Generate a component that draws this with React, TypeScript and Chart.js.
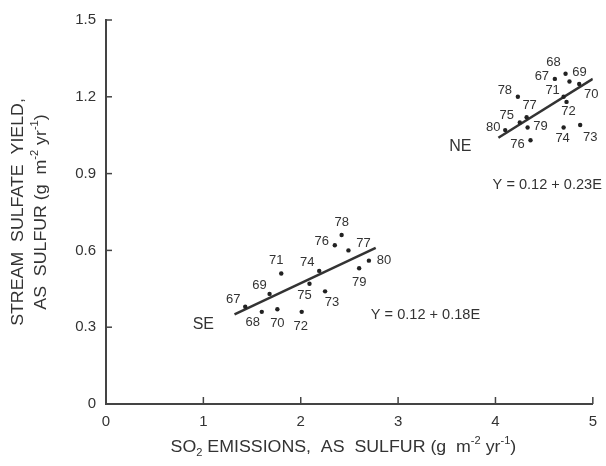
import React, { useEffect, useRef } from 'react';
import { Chart, registerables } from 'chart.js';

Chart.register(...registerables);

// ---- data ----
const years = ['67', '68', '69', '70', '71', '72', '73', '74', '75', '76', '77', '78', '79', '80'];
const seX = [1.43, 1.60, 1.68, 1.76, 1.80, 2.01, 2.25, 2.19, 2.09, 2.35, 2.49, 2.42, 2.60, 2.70];
const seY = [0.38, 0.36, 0.43, 0.37, 0.51, 0.36, 0.44, 0.52, 0.47, 0.62, 0.60, 0.66, 0.53, 0.56];
const neX = [4.61, 4.72, 4.76, 4.86, 4.70, 4.73, 4.87, 4.70, 4.25, 4.36, 4.32, 4.23, 4.33, 4.10];
const neY = [1.27, 1.29, 1.26, 1.25, 1.20, 1.18, 1.09, 1.08, 1.10, 1.03, 1.12, 1.20, 1.08, 1.07];
const seLineX = [1.32, 2.77];
const seLineY = [0.35, 0.61];
const neLineX = [4.03, 5.0];
const neLineY = [1.04, 1.27];
const seEquation = 'Y = 0.12 + 0.18E';
const neEquation = 'Y = 0.12 + 0.23E';
const xTicks = [0, 1, 2, 3, 4, 5];
const yTicks = [0, 0.3, 0.6, 0.9, 1.2, 1.5];

// label placement (pixel offsets from each point, by year order)
const seLabelOffsets: [number, number][] = [
  [-12, -7], [-9, 11], [-10, -8], [0, 14], [-5, -13], [-1, 15], [7, 11],
  [-12, -8], [-5, 12], [-13, -4], [15, -7], [0, -13], [0, 14], [15, 0],
];
const neLabelOffsets: [number, number][] = [
  [-13, -2], [-12, -11], [10, -9], [12, 10], [-11, -6], [2, 10], [10, 12],
  [-1, 11], [-13, -7], [-13, 4], [3, -12], [-13, -6], [13, -1], [-12, -3],
];

const FONT = '"Liberation Sans", Arial, Helvetica, sans-serif';
const TEXT = '#333';

type Part = [string, number]; // 0 normal, 1 sup, 2 sub

function drawRich(
  ctx: CanvasRenderingContext2D,
  parts: Part[],
  x: number,
  y: number,
  size: number,
  hScale = 1,
  align: 'center' | 'left' = 'center',
) {
  const small = Math.round(size * 0.62);
  const widths = parts.map(([t, k]) => {
    ctx.font = `${k ? small : size}px ${FONT}`;
    return ctx.measureText(t).width;
  });
  const total = widths.reduce((a, b) => a + b, 0);
  ctx.save();
  ctx.translate(x, y);
  ctx.scale(hScale, 1);
  let cx = align === 'center' ? -total / 2 : 0;
  ctx.textAlign = 'left';
  ctx.textBaseline = 'middle';
  parts.forEach(([t, k], i) => {
    ctx.font = `${k ? small : size}px ${FONT}`;
    const dy = k === 1 ? -size * 0.42 : k === 2 ? size * 0.3 : 0;
    ctx.fillText(t, cx, dy);
    cx += widths[i];
  });
  ctx.restore();
}

const overlay = {
  id: 'overlay',
  afterDraw(chart: any) {
    const ctx: CanvasRenderingContext2D = chart.ctx;
    const xs = chart.scales.x;
    const ys = chart.scales.y;
    const area = chart.chartArea;
    ctx.save();
    // inward tick marks
    ctx.strokeStyle = '#444';
    ctx.lineWidth = 1.5;
    yTicks.forEach((v) => {
      if (v === 0) return;
      const py = ys.getPixelForValue(v);
      ctx.beginPath();
      ctx.moveTo(area.left, py);
      ctx.lineTo(area.left + 6, py);
      ctx.stroke();
    });
    xTicks.forEach((v) => {
      if (v === 0) return;
      const px = xs.getPixelForValue(v);
      ctx.beginPath();
      ctx.moveTo(px, area.bottom);
      ctx.lineTo(px, area.bottom - 7);
      ctx.stroke();
    });

    // point labels
    ctx.fillStyle = TEXT;
    ctx.font = `13px ${FONT}`;
    ctx.textAlign = 'center';
    ctx.textBaseline = 'middle';
    const seMeta = chart.getDatasetMeta(0);
    seMeta.data.forEach((el: any, i: number) => {
      const [dx, dy] = seLabelOffsets[i];
      ctx.fillText(years[i], el.x + dx, el.y + dy);
    });
    const neMeta = chart.getDatasetMeta(1);
    neMeta.data.forEach((el: any, i: number) => {
      const [dx, dy] = neLabelOffsets[i];
      ctx.fillText(years[i], el.x + dx, el.y + dy);
    });

    // region names
    ctx.font = `16px ${FONT}`;
    ctx.fillText('SE', xs.getPixelForValue(1.0), ys.getPixelForValue(0.31));
    ctx.fillText('NE', xs.getPixelForValue(3.64), ys.getPixelForValue(1.005));

    // equations
    drawRich(ctx, [[seEquation, 0]], xs.getPixelForValue(2.72), ys.getPixelForValue(0.348), 14, 1.04, 'left');
    drawRich(ctx, [[neEquation, 0]], xs.getPixelForValue(3.94) + 3, ys.getPixelForValue(0.855), 14, 1.04, 'left');

    // axis titles
    drawRich(
      ctx,
      [['SO', 0], ['2', 2], [' EMISSIONS,  AS  SULFUR (g  m', 0], ['-2', 1], [' yr', 0], ['-1', 1], [')', 0]],
      (area.left + area.right) / 2 - 6,
      448,
      16,
      1.11,
    );
    ctx.save();
    ctx.translate(19, 212);
    ctx.rotate(-Math.PI / 2);
    drawRich(ctx, [['STREAM  SULFATE  YIELD,', 0]], 0, 0, 16, 1.11);
    ctx.restore();
    ctx.save();
    ctx.translate(42, 212);
    ctx.rotate(-Math.PI / 2);
    drawRich(ctx, [['AS  SULFUR (g  m', 0], ['-2', 1], [' yr', 0], ['-1', 1], [')', 0]], 0, 0, 16, 1.11);
    ctx.restore();

    ctx.restore();
  },
};

export default function App() {
  const ref = useRef<HTMLCanvasElement | null>(null);
  useEffect(() => {
    if (!ref.current) return;
    const pts = (xs: number[], ys: number[]) => xs.map((x, i) => ({ x, y: ys[i] }));
    const chart = new Chart(ref.current, {
      type: 'scatter',
      data: {
        datasets: [
          { label: 'SE', data: pts(seX, seY), pointRadius: 2.2, pointBackgroundColor: '#222', pointBorderWidth: 0 },
          { label: 'NE', data: pts(neX, neY), pointRadius: 2.2, pointBackgroundColor: '#222', pointBorderWidth: 0 },
          { label: 'SE fit', data: pts(seLineX, seLineY), showLine: true, pointRadius: 0, borderColor: '#333', borderWidth: 2.5 },
          { label: 'NE fit', data: pts(neLineX, neLineY), showLine: true, pointRadius: 0, borderColor: '#333', borderWidth: 2.5 },
        ],
      },
      options: {
        responsive: false,
        animation: false,
        layout: { padding: { top: 20, right: 9, left: 0, bottom: 0 } },
        plugins: { legend: { display: false }, tooltip: { enabled: false }, title: { display: false } },
        scales: {
          x: {
            type: 'linear',
            min: 0,
            max: 5,
            afterFit: (s: any) => { s.height = 62; },
            afterBuildTicks: (s: any) => { s.ticks = xTicks.map((v) => ({ value: v })); },
            ticks: { font: { size: 15, family: FONT }, color: TEXT, padding: 9, callback: (v: any) => String(v) },
            grid: { display: false, drawTicks: false },
            border: { display: true, color: '#444', width: 2 },
          },
          y: {
            type: 'linear',
            min: 0,
            max: 1.5,
            afterFit: (s: any) => { s.width = 106; },
            afterBuildTicks: (s: any) => { s.ticks = yTicks.map((v) => ({ value: v })); },
            ticks: {
              font: { size: 15, family: FONT },
              color: TEXT,
              padding: 10,
              callback: (v: any) => (Number(v) === 0 ? '0' : Number(v).toFixed(1)),
            },
            grid: { display: false, drawTicks: false },
            border: { display: true, color: '#444', width: 2 },
          },
        },
      },
      plugins: [overlay],
    });
    return () => chart.destroy();
  }, []);
  return (
    <div style={{ position: 'absolute', left: 0, top: 0, width: 606, height: 466, background: '#fff' }}>
      <canvas ref={ref} width={606} height={466} style={{ display: 'block' }} />
    </div>
  );
}
